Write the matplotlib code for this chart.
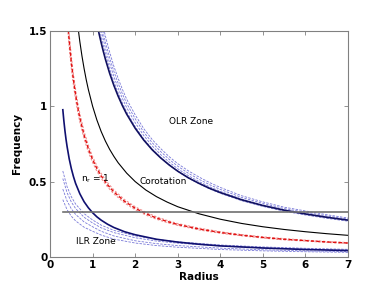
import matplotlib
matplotlib.use('Agg')
import matplotlib.pyplot as plt

# radius grids
r_ilr = [0.3, 0.325, 0.35, 0.375, 0.4, 0.45, 0.5, 0.55, 0.6, 0.7, 0.8, 0.9, 1.0, 1.1, 1.2, 1.35, 1.5, 1.75, 2, 2.5, 3, 3.5, 4, 5, 6, 7]
r_ilr_d = [0.3, 0.4, 0.5, 0.6, 0.8, 1.0, 1.2, 1.5, 2, 2.5, 3, 4, 5, 6, 7]
r_olr = [1.1, 1.15, 1.2, 1.25, 1.3, 1.4, 1.5, 1.6, 1.7, 1.8, 2.0, 2.2, 2.4, 2.6, 2.8, 3.0, 3.25, 3.5, 3.75, 4, 4.5, 5, 5.5, 6, 6.5, 7]
r_red = [0.4, 0.45, 0.5, 0.55, 0.6, 0.65, 0.7, 0.8, 0.9, 1.0, 1.1, 1.2, 1.35, 1.5, 1.75, 2, 2.25, 2.5, 2.75, 3, 3.5, 4, 4.5, 5, 5.5, 6, 6.5, 7]
r_cor = [0.6, 0.65, 0.7, 0.75, 0.8, 0.85, 0.9, 1.0, 1.1, 1.2, 1.3, 1.4, 1.5, 1.6, 1.8, 2.0, 2.25, 2.5, 2.75, 3, 3.5, 4, 4.5, 5, 5.5, 6, 6.5, 7]

# corotation
f_cor = [1.667, 1.538, 1.429, 1.333, 1.25, 1.176, 1.111, 1.0, 0.909, 0.833, 0.769, 0.714, 0.667, 0.625, 0.556, 0.5,
         0.444, 0.4, 0.364, 0.333, 0.286, 0.25, 0.222, 0.2, 0.182, 0.167, 0.154, 0.143]

# ILR
f_ilr = [0.977, 0.902, 0.837, 0.781, 0.733, 0.651, 0.586, 0.533, 0.488, 0.419, 0.366, 0.326, 0.293, 0.266, 0.244,
         0.217, 0.195, 0.167, 0.147, 0.117, 0.098, 0.084, 0.073, 0.059, 0.049, 0.042]
f_ilr_d1 = [0.57, 0.466, 0.399, 0.351, 0.287, 0.245, 0.211, 0.176, 0.139, 0.116, 0.100, 0.079, 0.066, 0.057, 0.05]
f_ilr_d2 = [0.52, 0.426, 0.364, 0.321, 0.263, 0.225, 0.193, 0.161, 0.127, 0.105, 0.091, 0.072, 0.059, 0.051, 0.045]
f_ilr_d3 = [0.45, 0.371, 0.319, 0.282, 0.232, 0.20, 0.170, 0.139, 0.107, 0.088, 0.075, 0.058, 0.047, 0.040, 0.035]
f_ilr_d4 = [0.38, 0.313, 0.270, 0.239, 0.197, 0.17, 0.145, 0.118, 0.092, 0.075, 0.064, 0.049, 0.040, 0.034, 0.03]

# OLR
f_olr = [1.552, 1.484, 1.423, 1.366, 1.313, 1.219, 1.138, 1.067, 1.004, 0.948, 0.854, 0.776, 0.711, 0.657, 0.610,
         0.569, 0.525, 0.488, 0.455, 0.427, 0.379, 0.341, 0.310, 0.285, 0.263, 0.244]
f_olr_d1 = [1.603, 1.531, 1.466, 1.405, 1.349, 1.249, 1.163, 1.089, 1.022, 0.963, 0.865, 0.783, 0.716, 0.659, 0.611,
            0.568, 0.523, 0.485, 0.451, 0.422, 0.373, 0.335, 0.303, 0.278, 0.256, 0.237]
f_olr_d2 = [1.650, 1.576, 1.509, 1.446, 1.388, 1.286, 1.197, 1.121, 1.052, 0.991, 0.891, 0.806, 0.737, 0.679, 0.629,
            0.585, 0.539, 0.500, 0.465, 0.435, 0.384, 0.345, 0.312, 0.287, 0.264, 0.244]
f_olr_d3 = [1.697, 1.620, 1.552, 1.487, 1.427, 1.323, 1.231, 1.153, 1.082, 1.019, 0.917, 0.829, 0.758, 0.699, 0.647,
            0.602, 0.555, 0.515, 0.479, 0.448, 0.395, 0.355, 0.321, 0.296, 0.272, 0.251]
f_olr_d4 = [1.744, 1.665, 1.595, 1.528, 1.466, 1.360, 1.265, 1.185, 1.112, 1.047, 0.943, 0.852, 0.779, 0.719, 0.665,
            0.619, 0.571, 0.530, 0.493, 0.461, 0.406, 0.365, 0.330, 0.305, 0.280, 0.258]

# n_r = 1
f_red = [1.615, 1.436, 1.292, 1.175, 1.077, 0.994, 0.923, 0.808, 0.718, 0.646, 0.587, 0.538, 0.479, 0.431, 0.369,
         0.323, 0.287, 0.258, 0.235, 0.215, 0.185, 0.162, 0.144, 0.129, 0.117, 0.108, 0.099, 0.092]
f_red_lo = [1.567, 1.393, 1.253, 1.140, 1.045, 0.964, 0.895, 0.784, 0.696, 0.627, 0.569, 0.522, 0.465, 0.418, 0.358,
            0.313, 0.278, 0.250, 0.228, 0.209, 0.179, 0.157, 0.140, 0.125, 0.113, 0.105, 0.096, 0.089]
f_red_hi = [1.663, 1.479, 1.331, 1.210, 1.109, 1.024, 0.951, 0.832, 0.740, 0.665, 0.605, 0.554, 0.493, 0.444, 0.380,
            0.333, 0.296, 0.266, 0.242, 0.221, 0.191, 0.167, 0.148, 0.133, 0.121, 0.111, 0.102, 0.095]

pattern_r = [0.3, 7]
pattern_f = [0.3, 0.3]

fig = plt.figure(figsize=(3.85, 2.98), dpi=100)
ax = fig.add_axes([0.13, 0.138, 0.774, 0.758])

dash_blue = '#7878d8'
for f in [f_ilr_d1, f_ilr_d2, f_ilr_d3, f_ilr_d4]:
    ax.plot(r_ilr_d, f, linestyle='--', color=dash_blue, lw=0.6, dashes=(3, 1.5))
for f in [f_olr_d1, f_olr_d2, f_olr_d3, f_olr_d4]:
    ax.plot(r_olr, f, linestyle='--', color=dash_blue, lw=0.6, dashes=(3, 1.5))
for f in [f_red_lo, f_red_hi]:
    ax.plot(r_red, f, linestyle='--', color='#f09090', lw=0.8, dashes=(2, 1.5))
ax.plot(r_red, f_red, linestyle='--', color='#e01010', lw=1.0, dashes=(2.5, 1.5))

ax.plot(r_ilr, f_ilr, color='#101070', lw=1.2)
ax.plot(r_olr, f_olr, color='#101060', lw=1.2)
ax.plot(r_cor, f_cor, color='black', lw=0.8)
ax.plot(pattern_r, pattern_f, color='#707070', lw=1.2)

ax.text(2.8, 0.9, 'OLR Zone', fontsize=6.5, va='center')
ax.text(2.1, 0.5, 'Corotation', fontsize=6.5, va='center')
ax.text(0.72, 0.52, '$\\mathregular{n_r}$ = 1', fontsize=6.5, va='center')
ax.text(0.62, 0.1, 'ILR Zone', fontsize=6.5, va='center')

ax.set_xlim(0, 7)
ax.set_ylim(0, 1.5)
ax.set_xticks(range(8))
ax.set_yticks([0, 0.5, 1, 1.5])
ax.set_yticklabels(['0', '0.5', '1', '1.5'])
ax.tick_params(direction='in', top=True, right=True, length=3, width=0.6,
               labelsize=7.5, pad=2, color='#808080')
for lab in ax.get_xticklabels() + ax.get_yticklabels():
    lab.set_fontweight('bold')
for s in ax.spines.values():
    s.set_color('#808080')
    s.set_linewidth(0.8)

ax.set_xlabel('Radius', fontsize=7.5, fontweight='bold', labelpad=2)
ax.set_ylabel('Frequency', fontsize=7.5, fontweight='bold', labelpad=5)

plt.savefig('out.png', dpi=100)
